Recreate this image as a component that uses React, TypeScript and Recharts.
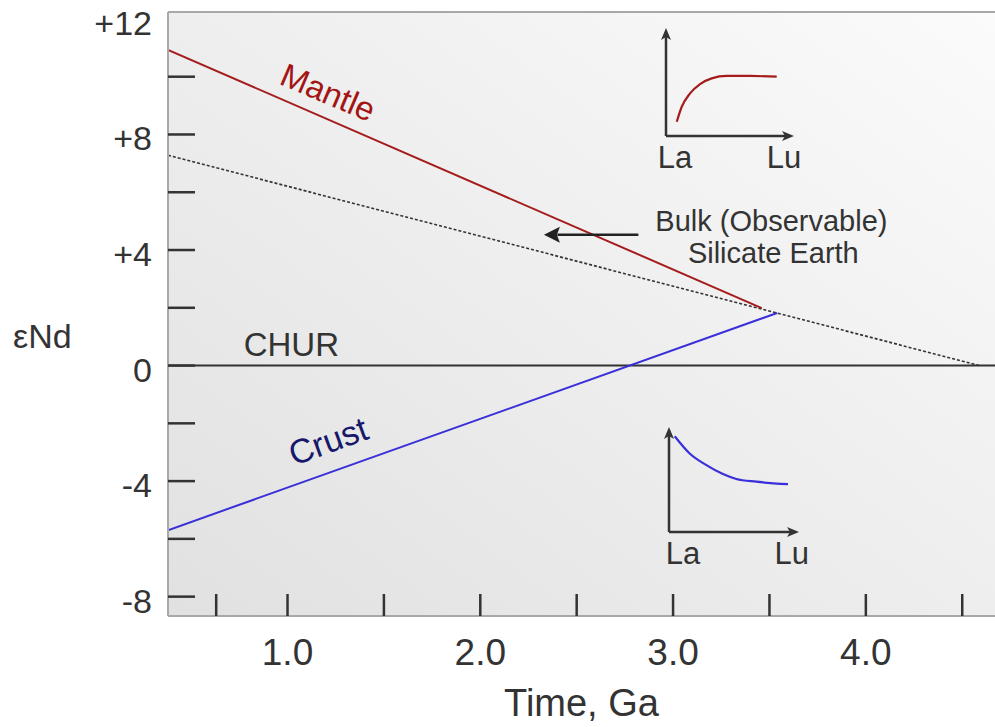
import React from 'react';
import {
  LineChart,
  Line,
  XAxis,
  YAxis,
  CartesianGrid,
  ReferenceLine,
  ReferenceDot,
} from 'recharts';

// ---------- data ----------
const timeDomain: [number, number] = [0.38, 4.67];
const epsDomain: [number, number] = [-8.67, 12.24];

const xTicks = [0.63, 1.0, 1.5, 2.0, 2.5, 3.0, 3.5, 4.0, 4.5];
const xTickLabels: Record<string, string> = { '1': '1.0', '2': '2.0', '3': '3.0', '4': '4.0' };
const yTicks = [-8, -6, -4, -2, 0, 2, 4, 6, 8, 10, 12];
const yTickLabels: Record<string, string> = { '12': '+12', '8': '+8', '4': '+4', '0': '0', '-4': '-4', '-8': '-8' };

const mantle = [
  { t: 0.38, e: 10.93 },
  { t: 3.46, e: 1.99 },
];
const crust = [
  { t: 0.38, e: -5.7 },
  { t: 3.54, e: 1.82 },
];
const bulkEarth = [
  { t: 0.38, e: 7.28 },
  { t: 4.59, e: 0 },
];
const chur = [
  { t: 0.38, e: 0 },
  { t: 4.67, e: 0 },
];

// annotation anchors (data units)
const mantleLabelAt = { t: 1.21, e: 9.46 };
const crustLabelAt = { t: 1.21, e: -2.61 };
const churLabelAt = { t: 1.02, e: 0.74 };
const bulkLine1At = { t: 3.51, e: 4.99 };
const bulkLine2At = { t: 3.52, e: 3.9 };
const bulkArrow = { from: 2.82, to: 2.4, tip: 2.33, e: 4.53 };

// inset REE patterns (schematic, 0..10 units)
const mantleRee = [
  { x: 0.84, y: 1.32 },
  { x: 1.23, y: 2.71 },
  { x: 1.88, y: 3.95 },
  { x: 2.66, y: 4.81 },
  { x: 3.57, y: 5.34 },
  { x: 4.74, y: 5.56 },
  { x: 6.56, y: 5.56 },
  { x: 8.65, y: 5.49 },
];
const crustRee = [
  { x: 0.44, y: 9.12 },
  { x: 1.59, y: 7.48 },
  { x: 2.88, y: 6.37 },
  { x: 4.15, y: 5.52 },
  { x: 5.18, y: 5.05 },
  { x: 6.72, y: 4.79 },
  { x: 9.15, y: 4.55 },
];

// ---------- styles ----------
const FONT = '"Liberation Sans", Arial, Helvetica, sans-serif';
const INK = '#333333';
const MANTLE_LINE = '#a51c1c';
const MANTLE_TEXT = '#a31515';
const CRUST_LINE = '#3a2fd8';
const CRUST_TEXT = '#17176b';

const YTick = (props: any) => {
  const { x, y, payload } = props;
  const v = payload.value;
  const label = yTickLabels[String(v)];
  return (
    <g>
      {v !== 12 && (
        <line x1={x} x2={x + 27} y1={y} y2={y} stroke={INK} strokeWidth={2.5} />
      )}
      {label !== undefined && (
        <text
          x={x - 16}
          y={y + 4}
          textAnchor="end"
          dominantBaseline="central"
          fontSize={34}
          fontFamily={FONT}
          fill={INK}
        >
          {label}
        </text>
      )}
    </g>
  );
};

const XTick = (props: any) => {
  const { x, y, payload } = props;
  const label = xTickLabels[String(payload.value)];
  return (
    <g>
      <line x1={x} x2={x} y1={y} y2={y - 22} stroke={INK} strokeWidth={2.5} />
      {label !== undefined && (
        <text
          x={x}
          y={y + 36}
          textAnchor="middle"
          dominantBaseline="central"
          fontSize={37}
          fontFamily={FONT}
          fill={INK}
        >
          {label}
        </text>
      )}
    </g>
  );
};

const textShape =
  (text: string, color: string, size: number, angle = 0) =>
  (props: any) => {
    const { cx, cy } = props;
    return (
      <text
        x={cx}
        y={cy}
        textAnchor="middle"
        dominantBaseline="central"
        fontSize={size}
        fontFamily={FONT}
        fill={color}
        transform={angle ? `rotate(${angle} ${cx} ${cy})` : undefined}
      >
        {text}
      </text>
    );
  };

const leftArrowHead = (props: any) => {
  const { cx, cy } = props;
  return (
    <polygon
      points={`${cx},${cy} ${cx + 16},${cy - 8} ${cx + 13},${cy} ${cx + 16},${cy + 8}`}
      fill="#222"
    />
  );
};
const rightArrowHead = (props: any) => {
  const { cx, cy } = props;
  return (
    <polygon
      points={`${cx},${cy} ${cx - 12},${cy - 5} ${cx - 9},${cy} ${cx - 12},${cy + 5}`}
      fill={INK}
    />
  );
};
const upArrowHead = (props: any) => {
  const { cx, cy } = props;
  return (
    <polygon
      points={`${cx},${cy} ${cx - 5},${cy + 12} ${cx},${cy + 9} ${cx + 5},${cy + 12}`}
      fill={INK}
    />
  );
};

const InsetTick = (props: any) => {
  const { x, y, payload, labels } = props;
  const label = labels[String(payload.value)];
  return (
    <text
      x={x}
      y={y + 21}
      textAnchor="middle"
      dominantBaseline="central"
      fontSize={31}
      fontFamily={FONT}
      fill={INK}
    >
      {label}
    </text>
  );
};

type InsetProps = {
  left: number;
  top: number;
  plotW: number;
  plotH: number;
  data: { x: number; y: number }[];
  color: string;
  laAt: number;
  luAt: number;
};

const Inset = ({ left, top, plotW, plotH, data, color, laAt, luAt }: InsetProps) => {
  const labels: Record<string, string> = { [String(laAt)]: 'La', [String(luAt)]: 'Lu' };
  return (
    <div style={{ position: 'absolute', left, top }}>
      <LineChart
        width={plotW + 32}
        height={plotH + 48}
        margin={{ top: 8, left: 16, right: 16, bottom: 0 }}
      >
        <XAxis
          type="number"
          dataKey="x"
          domain={[0, 10]}
          ticks={[laAt, luAt]}
          interval={0}
          axisLine={false}
          tickLine={false}
          tickSize={0}
          tickMargin={0}
          height={40}
          tick={<InsetTick labels={labels} />}
        />
        <YAxis type="number" dataKey="y" domain={[0, 10]} hide />
        <ReferenceLine
          segment={[
            { x: 0, y: 0 },
            { x: 9.5, y: 0 },
          ]}
          stroke={INK}
          strokeWidth={2.5}
        />
        <ReferenceLine
          segment={[
            { x: 0, y: 0 },
            { x: 0, y: 9.5 },
          ]}
          stroke={INK}
          strokeWidth={2.5}
        />
        <ReferenceDot x={10} y={0} r={0} shape={rightArrowHead} />
        <ReferenceDot x={0} y={10} r={0} shape={upArrowHead} />
        <Line
          data={data}
          dataKey="y"
          type="monotone"
          stroke={color}
          strokeWidth={2.2}
          dot={false}
          activeDot={false}
          isAnimationActive={false}
        />
      </LineChart>
    </div>
  );
};

export default function App() {
  return (
    <div style={{ position: 'absolute', left: 0, top: 0, width: 995, height: 727, background: '#fff' }}>
      <LineChart width={995} height={727} margin={{ top: 12, right: 0, bottom: 0, left: 0 }}>
        <defs>
          <linearGradient id="plotBg" x1="0" y1="1" x2="1" y2="0">
            <stop offset="0%" stopColor="#e1e1e1" />
            <stop offset="50%" stopColor="#eeeeee" />
            <stop offset="100%" stopColor="#fbfbfb" />
          </linearGradient>
        </defs>
        <CartesianGrid horizontal={false} vertical={false} stroke="none" fill="url(#plotBg)" />
        <XAxis
          type="number"
          dataKey="t"
          domain={timeDomain}
          allowDataOverflow
          ticks={xTicks}
          interval={0}
          height={111}
          tickSize={0}
          tickMargin={0}
          tickLine={false}
          axisLine={{ stroke: '#a8a8a8', strokeWidth: 2 }}
          tick={<XTick />}
          label={{
            value: 'Time, Ga',
            position: 'insideBottom',
            offset: 11,
            style: { fontSize: 38, fill: INK, fontFamily: FONT },
          }}
        />
        <YAxis
          type="number"
          dataKey="e"
          domain={epsDomain}
          allowDataOverflow
          ticks={yTicks}
          interval={0}
          width={168}
          tickSize={0}
          tickMargin={0}
          tickLine={false}
          axisLine={{ stroke: '#a8a8a8', strokeWidth: 2 }}
          tick={<YTick />}
          label={{
            value: 'εNd',
            position: 'insideLeft',
            offset: 13,
            dy: 22,
            style: { fontSize: 34, fill: INK, fontFamily: FONT },
          }}
        />
        <ReferenceLine y={epsDomain[1]} stroke="#a8a8a8" strokeWidth={2} />

        <Line
          data={chur}
          dataKey="e"
          stroke={INK}
          strokeWidth={2}
          dot={false}
          activeDot={false}
          isAnimationActive={false}
        />
        <Line
          data={bulkEarth}
          dataKey="e"
          stroke={INK}
          strokeWidth={1.6}
          strokeDasharray="3 2"
          dot={false}
          activeDot={false}
          isAnimationActive={false}
        />
        <Line
          data={mantle}
          dataKey="e"
          stroke={MANTLE_LINE}
          strokeWidth={2}
          dot={false}
          activeDot={false}
          isAnimationActive={false}
        />
        <Line
          data={crust}
          dataKey="e"
          stroke={CRUST_LINE}
          strokeWidth={2}
          dot={false}
          activeDot={false}
          isAnimationActive={false}
        />

        <ReferenceLine
          segment={[
            { x: bulkArrow.from, y: bulkArrow.e },
            { x: bulkArrow.to, y: bulkArrow.e },
          ]}
          stroke="#222"
          strokeWidth={2.5}
        />
        <ReferenceDot x={bulkArrow.tip} y={bulkArrow.e} r={0} shape={leftArrowHead} />

        <ReferenceDot
          x={mantleLabelAt.t}
          y={mantleLabelAt.e}
          r={0}
          shape={textShape('Mantle', MANTLE_TEXT, 33, 23)}
        />
        <ReferenceDot
          x={crustLabelAt.t}
          y={crustLabelAt.e}
          r={0}
          shape={textShape('Crust', CRUST_TEXT, 34, -20)}
        />
        <ReferenceDot
          x={churLabelAt.t}
          y={churLabelAt.e}
          r={0}
          shape={textShape('CHUR', INK, 33)}
        />
        <ReferenceDot
          x={bulkLine1At.t}
          y={bulkLine1At.e}
          r={0}
          shape={textShape('Bulk (Observable)', INK, 29)}
        />
        <ReferenceDot
          x={bulkLine2At.t}
          y={bulkLine2At.e}
          r={0}
          shape={textShape('Silicate Earth', INK, 29)}
        />
      </LineChart>

      <Inset
        left={650}
        top={20}
        plotW={128}
        plotH={108}
        data={mantleRee}
        color={MANTLE_LINE}
        laAt={0.7}
        luAt={9.22}
      />
      <Inset
        left={653}
        top={419}
        plotW={130}
        plotH={105}
        data={crustRee}
        color={CRUST_LINE}
        laAt={1.08}
        luAt={9.44}
      />
    </div>
  );
}
